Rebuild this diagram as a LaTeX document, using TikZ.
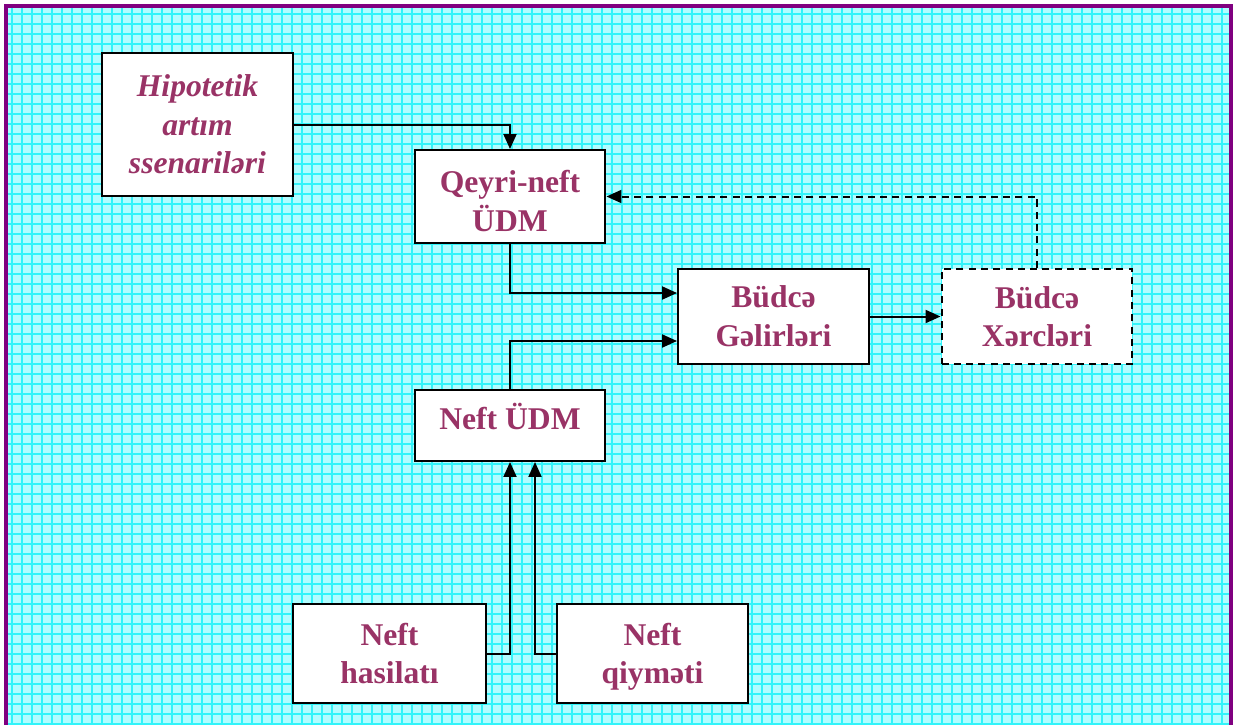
\documentclass[tikz,border=0pt]{standalone}
\usepackage{fontspec}
\setmainfont{Liberation Serif}
\usetikzlibrary{arrows.meta, positioning}
\definecolor{my_cyan}{RGB}{178, 252, 255}
\definecolor{my_gridcyan}{RGB}{50, 244, 250}
\definecolor{my_purple}{RGB}{128, 0, 128}
\definecolor{my_wine}{RGB}{153, 51, 102}
\tikzset {
  model/.style = {draw, line width=0.04cm, fill=white, text centered, align=center, text=my_wine, font=\fontsize{18}{22}\selectfont\bfseries, minimum width=3.82cm, inner sep=0pt},
  dashedmodel/.style = {model, dash pattern=on 4pt off 3pt},
  line/.style = {-{Triangle[length=0.3cm, width=0.26cm]}, line width=0.04cm, color=black},
  dashedline/.style = {line, dash pattern=on 4pt off 3pt},
  gridline/.style = {my_gridcyan, line width=0.032cm}
}

\begin{document}
\begin{tikzpicture}[x=0.02cm, y=-0.02cm]
    \useasboundingbox (0,0) rectangle (1234,724);

    % background with grid
    \fill[my_cyan] (6,6) rectangle (1231,730);
    \foreach \gx in {12,22,...,1230} {
      \draw[gridline] (\gx,6) -- (\gx,724);
    }
    \foreach \gy in {14,24,...,724} {
      \draw[gridline] (6,\gy) -- (1231,\gy);
    }
    \draw[my_purple, line width=0.08cm] (6,740) -- (6,6) -- (1231,6) -- (1231,740);

    % boxes
    \node[model, minimum height=2.86cm, font=\fontsize{18}{22}\selectfont\bfseries\itshape] (hip) at (197.5,124.5) {Hipotetik\\artım\\ssenariləri};
    \node[model, minimum height=1.86cm] (qn) at (510,196.5) {\rule{0pt}{17.5pt}Qeyri-neft\\ÜDM};
    \node[model, minimum height=1.9cm] (bg) at (773.5,316.5) {Büdcə\\Gəlirləri};
    \node[dashedmodel, minimum height=1.9cm] (bx) at (1037,316.5) {Büdcə\\Xərcləri};
    \node[model, minimum height=1.42cm] (nu) at (510,425.5) {Neft ÜDM\rule[-10pt]{0pt}{10pt}};
    \node[model, minimum height=1.98cm, minimum width=3.86cm] (nh) at (389.5,653.5) {\rule{0pt}{19pt}Neft\\hasilatı\strut};
    \node[model, minimum height=1.98cm] (nq) at (652.5,653.5) {\rule{0pt}{19pt}Neft\\qiyməti\strut};

    % connectors
    \draw[line] (hip.east |- 0,125) -| (qn.north);
    \draw[line] (qn.south) |- (bg.west |- 0,293);
    \draw[line] (nu.north) |- (bg.west |- 0,341);
    \draw[line] (bg.east) -- (bx.west);
    \draw[dashedline] (bx.north) |- (qn.east);
    \draw[line] (nh.east) -| (nu.south);
    \draw[line] (nq.west) -| ([xshift=0.5cm]nu.south);

\end{tikzpicture}
\end{document}
